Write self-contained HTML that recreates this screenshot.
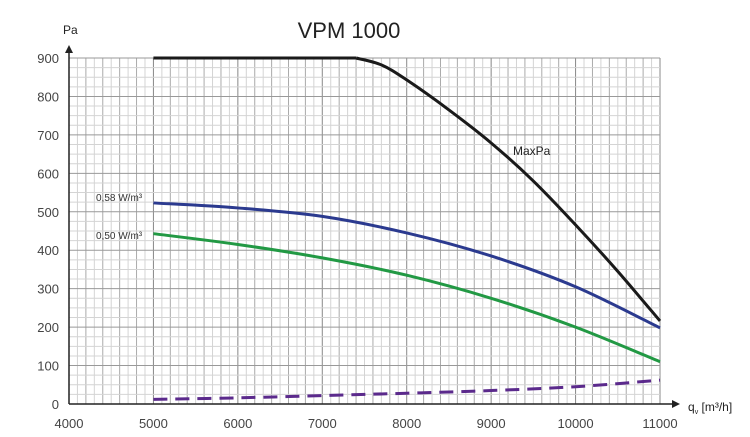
<!DOCTYPE html>
<html><head><meta charset="utf-8"><style>
body{margin:0;background:#fff;}
svg{display:block;font-family:"Liberation Sans",sans-serif;}
</style></head><body>
<svg id="chart" width="750" height="437" viewBox="0 0 750 437">
<g id="grid"></g>
<g id="axes"></g>
<g id="series"></g>
<text x="349" y="38" font-size="22" text-anchor="middle" fill="#222">VPM 1000</text>
<text x="63" y="34" font-size="12" fill="#222">Pa</text>
<text x="688" y="411" font-size="12" fill="#222">q<tspan font-size="7" dy="3">v</tspan><tspan dy="-3"> [m³/h]</tspan></text>
<text x="513" y="155" font-size="12" fill="#222">MaxPa</text>
<text x="96" y="201" font-size="10" fill="#333">0,58 W/m³</text>
<text x="96" y="239" font-size="10" fill="#333">0,50 W/m³</text>
</svg>
<script>
const xTicks=[4000,5000,6000,7000,8000,9000,10000,11000];
const yTicks=[0,100,200,300,400,500,600,700,800,900];
const flows=[5000,6000,7000,8000,9000,10000,11000];
const maxX=[5000,7400,7700,8000,8500,9000,9500,10000,10500,11000];
const maxY=[900,900,882,843,765,679,580,466,345,216];
const blue=[523,510,488,445,385,305,198];
const green=[443,415,380,335,275,200,110];
const purple=[12,16,22,28,35,45,62];
const X0=69,X1=660,Y0=404,Y1=58;
const sx=v=>X0+(v-4000)/7000*(X1-X0);
const sy=v=>Y0-(v/900)*(Y0-Y1);
const NS='http://www.w3.org/2000/svg';
function mk(t,a,p){const e=document.createElementNS(NS,t);for(const k in a)e.setAttribute(k,a[k]);p.appendChild(e);return e;}
const grid=document.getElementById('grid'),axes=document.getElementById('axes'),ser=document.getElementById('series');
for(let v=4100;v<=11000;v+=100){const l=mk('line',{x1:sx(v),x2:sx(v),y1:Y1,y2:Y0,stroke:v%1000==0?'#888':(v%200==0?'#aaa':'#d4d4d4'),'stroke-width':1},grid);}
for(let v=25;v<=900;v+=25){const l=mk('line',{x1:X0,x2:X1,y1:sy(v),y2:sy(v),stroke:v%100==0?'#999':'#d4d4d4','stroke-width':1},grid);}
let a=mk('line',{x1:X0,x2:X0,y1:Y0,y2:Y1-6,stroke:'#222','stroke-width':1.5},axes);
a=mk('polygon',{points:`${X0-4},${Y1-5} ${X0+4},${Y1-5} ${X0},${Y1-13}`,fill:'#222'},axes);
a=mk('line',{x1:X0,x2:X1+14,y1:Y0,y2:Y0,stroke:'#222','stroke-width':1.5},axes);
a=mk('polygon',{points:`${X1+12},${Y0-4} ${X1+12},${Y0+4} ${X1+20},${Y0}`,fill:'#222'},axes);
xTicks.forEach(v=>{const t=mk('text',{x:sx(v),y:428,'font-size':13,'text-anchor':'middle',fill:'#444'},axes);t.textContent=v;});
yTicks.forEach(v=>{const t=mk('text',{x:59,y:sy(v)+5,'font-size':13,'text-anchor':'end',fill:'#444'},axes);t.textContent=v;});
function curve(xs,ys,col,w,dash,name){
 const pts=xs.map((x,i)=>[sx(x),sy(ys[i])]);
 let d='M'+pts[0][0]+','+pts[0][1];
 for(let i=0;i<pts.length-1;i++){const p0=pts[Math.max(0,i-1)],p1=pts[i],p2=pts[i+1],p3=pts[Math.min(pts.length-1,i+2)];
  d+=` C${p1[0]+(p2[0]-p0[0])/6},${p1[1]+(p2[1]-p0[1])/6} ${p2[0]-(p3[0]-p1[0])/6},${p2[1]-(p3[1]-p1[1])/6} ${p2[0]},${p2[1]}`;}
 const p=mk('path',{d:d,fill:'none',stroke:col,'stroke-width':w},ser);if(dash)p.setAttribute('stroke-dasharray',dash);
 
 
}
curve(maxX.slice(0,2),maxY.slice(0,2),'#1a1a1a',3,null,'maxpa-flat');
curve(maxX.slice(1),maxY.slice(1),'#1a1a1a',3,null,'maxpa-curve');
curve(flows,blue,'#2b3a8f',3,null,'curve-058');
curve(flows,green,'#229944',3,null,'curve-050');
curve(flows,purple,'#5b2a8c',3,'14 8','power-curve');
</script>
</body></html>
